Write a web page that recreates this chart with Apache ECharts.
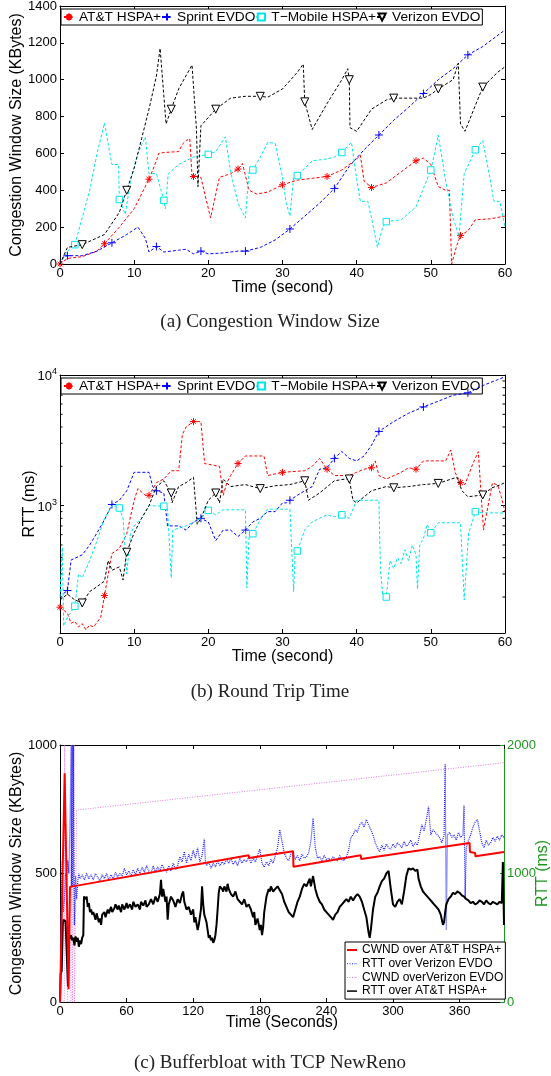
<!DOCTYPE html>
<html>
<head>
<meta charset="utf-8">
<title>TCP over cellular networks</title>
<script src="https://cdn.jsdelivr.net/npm/echarts@6/dist/echarts.min.js"></script>
<style>
  html, body { margin: 0; padding: 0; background: #fff; }
  #chart { width: 551px; height: 1076px; }
</style>
</head>
<body>
<div id="chart"></div>
<script>
// ---- (a) congestion window, [second, KBytes] ----
var attCwnd = [[0,0],[1,30],[3,40],[5,70],[6,110],[8,200],[10,300],[11,380],[12,460],[13,560],[13.3,600],[14,605],[16,610],[16.5,650],[17,670],[17.5,680],[17.8,480],[18,475],[19,470],[20.3,250],[21.5,470],[23,490],[24,515],[24.6,545],[25.5,400],[26.5,380],[28,390],[29.5,420],[30,430],[32,455],[34,465],[36,475],[38,510],[40,570],[40.5,590],[41,450],[42,415],[44,440],[46,500],[48,560],[49,575],[50,540],[51,420],[52,400],[52.5,400],[52.8,0],[53.5,100],[54,155],[55,180],[56,240],[58,245],[60,260]];
var sprintCwnd = [[0,0],[0.5,40],[1,45],[3,45],[5,70],[7,115],[9,160],[10.5,200],[11.5,140],[12,65],[13,95],[14,65],[16,75],[17,80],[18,55],[19,70],[20,55],[22,60],[24,70],[25,70],[27,90],[29,130],[31,190],[33,260],[35,330],[37,410],[39,530],[41,620],[43,700],[45,780],[47,850],[49,925],[51,1000],[53,1060],[55,1135],[57,1180],[60,1270]];
var tmoCwnd = [[0,0],[1,70],[2,105],[4,400],[5,600],[6,765],[6.5,650],[7,540],[7.9,540],[8,350],[8.8,270],[9.5,450],[10.5,600],[11.5,690],[12,490],[13,490],[14,345],[14.2,300],[14.6,490],[16,540],[18,580],[20,595],[21,610],[22.3,690],[23,500],[24,330],[25,250],[25.5,500],[26,510],[27,580],[28,660],[29,655],[30,470],[30.5,330],[31,260],[31.5,470],[32,480],[34,560],[36,570],[37,580],[38,605],[39.3,660],[40,460],[40.5,340],[41.5,340],[42,250],[42.8,90],[43.5,200],[44,230],[46,240],[48,310],[49.5,460],[50,510],[50.5,600],[51,700],[52,450],[53,250],[53.8,150],[54.5,490],[56,620],[57,670],[58,460],[58.5,340],[59.3,340],[60,200]];
var vzwCwnd = [[0,0],[1,90],[3,105],[6,160],[8,280],[9,400],[10,520],[11,680],[12,840],[13,1020],[13.5,1170],[14.3,760],[15,840],[16,950],[17.8,1080],[18.4,730],[18.6,420],[19,750],[21,840],[23,900],[25,910],[27,910],[28,905],[30,950],[32,1040],[32.8,1085],[33,880],[34,730],[36,870],[38,1000],[38.8,1060],[39,1000],[39.1,740],[40,720],[42,840],[44,890],[45,900],[47,900],[49,900],[50,920],[51,950],[53,1000],[53.7,1090],[54,760],[54.6,720],[57,960],[59,1040],[60,1070]];

// ---- (b) round trip time, [second, ms] ----
var attRtt = [[0,167],[1,150],[1.5,126],[2,130],[2.5,118],[3,125],[3.5,112],[4,122],[4.5,118],[5,128],[5.5,140],[6,205],[6.5,300],[7,430],[7.5,450],[8,470],[9,610],[10,1100],[10.5,1350],[11.5,1200],[12,1200],[13,1500],[14,1600],[15,1850],[16,1850],[16.5,3500],[17,4000],[18,4400],[19,4400],[19.5,2100],[21.5,2000],[22,1200],[22.5,1500],[23,1700],[24,2100],[25,2400],[27.5,2400],[28,1700],[30,1800],[33,1850],[34,2000],[35,2300],[36,1900],[37,1700],[39,1700],[40,1800],[41,1900],[42,1950],[42.5,2200],[43,1700],[44,1600],[46,1800],[47,1950],[48,1900],[49,2200],[52,2200],[52.7,2670],[53.3,1780],[54,1500],[54.6,1450],[55.6,2050],[56.4,2590],[57.1,650],[58.3,1490],[59,1440],[59.5,1170],[60,900]];
var sprintRtt = [[0.5,213],[1,224],[1.5,384],[3,420],[4,500],[5,620],[6,780],[7,1020],[8,1100],[9,1300],[10,1800],[11,1800],[12,1800],[12.5,1400],[13,1300],[14,1250],[14.5,700],[16,700],[17,650],[18,750],[19,800],[20,750],[21,540],[22,650],[23,650],[24,580],[25,650],[26,750],[27,800],[28,900],[29,900],[30,1050],[30.5,1050],[31,1100],[32,1200],[33,1300],[34,1400],[35,1900],[36,1950],[37,2300],[38,2600],[39,2300],[40,2200],[41,2400],[42,2900],[43,3700],[45,4400],[47,5100],[49,5700],[51,6300],[53,7000],[55,7300],[57,8300],[59,9200],[60,9700]];
var tmoRtt = [[0,200],[0.3,480],[0.5,120],[1,140],[2,170],[2.5,300],[3,280],[4,380],[5,540],[6,800],[7,1000],[8,960],[8.5,800],[9,300],[9.5,600],[10,700],[11,800],[12,1000],[14,990],[14.5,950],[15,280],[15.2,650],[17,700],[19,800],[20,920],[21,850],[22,930],[25,930],[25.2,235],[25.5,600],[26,610],[27,780],[28,940],[31,940],[31.5,220],[31.7,430],[32,450],[33,650],[34,750],[35,800],[36,850],[37,820],[38,850],[39,800],[40,1100],[43,1100],[43.2,330],[43.5,210],[44,200],[44.5,380],[45,330],[45.5,400],[46,360],[46.5,460],[47,380],[47.5,500],[48,420],[48.2,230],[48.5,500],[49,560],[49.5,720],[50,620],[51,740],[54,740],[54.5,190],[55.1,620],[55.8,820],[56,900],[57,880],[60,880]];
var vzwRtt = [[0,190],[1,210],[2,190],[3,180],[4,220],[5,240],[6,265],[6.5,380],[7,320],[8,340],[8.5,270],[9,440],[10,620],[11,800],[12,1000],[13,1400],[14,1550],[15,1250],[15.1,1050],[16,1400],[17,1500],[18,1650],[18.5,720],[19,800],[20,1100],[21,1250],[21.5,1050],[22,1600],[23,1400],[25,1450],[27,1350],[29,1420],[31,1450],[33,1550],[33.5,1100],[35,1250],[37,1550],[38.5,1600],[39,1600],[39.5,1100],[40,1050],[42,1300],[44,1400],[45,1370],[47,1400],[49,1450],[51,1480],[53.5,1650],[54.2,1300],[55,1170],[57,1207],[58.2,1366],[59.3,1440],[60,1500]];

// marker positions (seconds) for each carrier, shared by (a) and (b)
var attMarks = [0,6,12,18,24,30,36,42,48,54];
var sprintMarks = [1,7,13,19,25,31,37,43,49,55];
var tmoMarks = [2,8,14,20,26,32,38,44,50,56];
var vzwMarks = [3,9,15,21,27,33,39,45,51,57];

var carrierNames = ['AT&T HSPA+', 'Sprint EVDO', 'T\u2212Mobile HSPA+', 'Verizon EVDO'];
var rttMinorTicks = [200,300,400,500,600,700,800,900,2000,3000,4000,5000,6000,7000,8000,9000];

// ---- (c) bufferbloat, [second, KBytes] and [second, ms] ----
var attCwndLong = [[0,0],[0.7,0],[4.2,890],[7.7,50],[8.6,50],[9,448],[170,571],[170.3,560],[210,587],[210.3,526],[271,571],[271.3,556],[369,619],[369.3,584],[374,580],[374.3,567],[400,584]];
var vzwCwndLong = [[0,0],[3.8,0],[4.2,1000],[5.5,1000],[5.8,200],[7,0],[9.8,0],[10.2,1000],[10.9,1000],[11.2,0],[12.4,0],[12.6,1000],[13,0],[14.8,0],[15,747],[400,931]];
var vzwRttLong = [[0.5,320],[1,640],[2,1100],[3,700],[4,800],[5,1000],[6,950],[7,1100],[8,1000],[9,1400],[10,2000],[10.3,900],[11,2000],[11.4,900],[12,2000],[12.5,1100],[13,600],[14,980],[15,800],[16,940],[17,1000],[18,960],[20,990],[22,950],[24,1000],[26,960],[28,990],[30,950],[32,1000],[34,970],[36,940],[38,990],[40,960],[42,1000],[44,950],[46,990],[48,960],[50,1010],[52,970],[54,1000],[56,980],[58,1040],[60,990],[62,1020],[64,980],[66,1030],[68,990],[70,1040],[72,1000],[74,1050],[76,1010],[78,1060],[80,1020],[82,1000],[84,1060],[86,1010],[88,1050],[90,1020],[92,1070],[94,1030],[96,1010],[98,1060],[100,1020],[102,1080],[104,1030],[106,1060],[108,1130],[110,1090],[112,1170],[114,1080],[116,1150],[118,1100],[120,1180],[122,1120],[124,1200],[126,1090],[128,1140],[130,1270],[131,1100],[132,1060],[134,1090],[136,1040],[138,1080],[140,1050],[142,1100],[144,1060],[146,1090],[148,1070],[150,1110],[152,1080],[154,1120],[156,1070],[158,1100],[160,1060],[162,1120],[164,1080],[166,1110],[168,1090],[170,1130],[172,1080],[174,1120],[176,1090],[178,1140],[180,1190],[182,1080],[184,1050],[186,1090],[188,1060],[190,1110],[192,1080],[194,1140],[196,1200],[198,1340],[200,1250],[202,1160],[204,1120],[206,1100],[208,1150],[210,1160],[212,1110],[214,1140],[216,1100],[218,1150],[220,1120],[222,1130],[224,1160],[226,1250],[228,1430],[230,1200],[232,1120],[234,1130],[236,1100],[238,1140],[240,1110],[242,1120],[244,1100],[246,1130],[248,1110],[250,1100],[252,1140],[254,1110],[256,1100],[258,1130],[260,1180],[262,1280],[264,1300],[266,1340],[268,1320],[270,1380],[272,1400],[274,1360],[276,1420],[278,1380],[280,1340],[282,1300],[284,1240],[286,1200],[288,1170],[290,1220],[292,1180],[294,1230],[296,1200],[298,1190],[300,1230],[302,1200],[304,1240],[306,1220],[308,1200],[310,1250],[312,1210],[314,1230],[316,1260],[318,1210],[320,1240],[322,1220],[324,1300],[326,1380],[328,1330],[330,1420],[332,1520],[334,1300],[336,1340],[338,1320],[340,1300],[342,1280],[344,1240],[346,1300],[347,1850],[348,560],[349,1300],[351,1320],[353,1280],[355,1300],[357,1260],[359,1320],[361,1280],[363,1300],[364,1530],[365,800],[366,1200],[368,1260],[370,1300],[372,1360],[374,1400],[376,1420],[378,1330],[380,1240],[382,1200],[384,1260],[386,1220],[388,1240],[390,1280],[392,1250],[394,1290],[396,1260],[398,1300],[400,1280]];
var attRttLong = [[0,0],[0.6,220],[1.5,240],[2.5,600],[3,640],[5,630],[6,620],[7.2,120],[8,480],[9,470],[10,520],[11,480],[12,500],[13,440],[14,510],[15,470],[16,500],[17,430],[18,480],[19,450],[20,500],[21,520],[21.6,820],[22,830],[23,800],[24,820],[25,740],[26,770],[27,700],[28,720],[29,680],[30,700],[32,640],[33,690],[35,620],[36,650],[37,600],[38,680],[40,700],[41,660],[43,720],[44,690],[46,740],[47,700],[49,730],[50,760],[52,720],[53,750],[55,700],[56,760],[58,720],[60,770],[61,730],[63,760],[65,720],[66,780],[68,740],[70,760],[72,720],[73,780],[75,750],[77,790],[78,740],[80,760],[82,800],[84,760],[86,820],[88,780],[90,840],[91,950],[92,820],[93,880],[95,780],[96,820],[97,640],[98,760],[100,820],[102,790],[104,740],[106,800],[108,770],[110,840],[111,860],[112,780],[114,720],[116,740],[118,680],[120,720],[121,620],[122,660],[124,560],[125,600],[127,720],[128,900],[129,760],[130,680],[132,620],[133,560],[134,500],[135,520],[136,480],[137,500],[138,460],[139,480],[140,520],[141,600],[142,720],[143,850],[144,900],[146,880],[147,860],[148,900],[149,880],[150,860],[151,920],[152,880],[154,840],[156,820],[158,860],[160,800],[162,780],[164,760],[166,800],[168,740],[170,760],[172,720],[174,660],[175,700],[176,600],[178,650],[180,560],[181,600],[182,520],[183,580],[184,700],[186,820],[188,880],[189,860],[190,900],[192,860],[194,880],[196,900],[198,870],[200,840],[202,780],[204,740],[206,700],[208,680],[210,660],[212,720],[214,780],[216,820],[218,880],[220,920],[222,900],[224,940],[225,960],[226,900],[228,980],[230,880],[232,820],[234,780],[236,760],[238,720],[240,700],[242,680],[244,660],[246,640],[248,680],[250,700],[252,740],[254,760],[256,780],[258,800],[260,780],[262,820],[264,790],[266,820],[268,840],[270,820],[272,780],[274,720],[276,660],[277,600],[278,540],[279,500],[280,560],[281,640],[282,720],[284,820],[286,850],[288,900],[290,940],[292,960],[294,1000],[296,1020],[298,880],[300,760],[302,740],[304,780],[306,800],[308,760],[310,860],[312,980],[314,1040],[316,1030],[318,1040],[320,1020],[322,1030],[323,960],[325,900],[327,860],[329,840],[331,820],[333,800],[335,780],[337,760],[339,740],[341,720],[343,680],[344,640],[345,600],[346,620],[347,700],[348,760],[350,800],[352,820],[354,850],[356,840],[358,860],[360,850],[362,830],[364,820],[366,800],[368,790],[370,770],[372,780],[374,760],[376,770],[378,790],[380,780],[382,760],[384,790],[386,770],[388,760],[390,780],[392,770],[394,760],[396,780],[398,770],[399,1090],[400,600]];
var longLegend = ['CWND over AT&T HSPA+', 'RTT over Verizon EVDO', 'CWND overVerizon EVDO', 'RTT over AT&T HSPA+'];

var FONT = "'Liberation Sans', Arial, sans-serif";
var SERIF = "'Liberation Serif', 'Times New Roman', serif";
var GREEN = '#1e961e';

var ASTERISK = 'path://M5,0L5,10M0,5L10,5M1.6,1.6L8.4,8.4M8.4,1.6L1.6,8.4';
var PLUS = 'path://M5,0L5,10M0,5L10,5';

var carriers = [
  { color: '#ff0000', symbol: ASTERISK, fill: '#ff0000', size: 7, rotate: 0 },
  { color: '#0000ff', symbol: PLUS, fill: '#0000ff', size: 8, rotate: 0 },
  { color: '#00e5ee', symbol: 'rect', fill: '#ffffff', size: 6.5, rotate: 0 },
  { color: '#000000', symbol: 'triangle', fill: '#ffffff', size: 8, rotate: 180 }
];

function plain(v) { return String(v); }

function marked(points, marks) {
  return points.map(function (p) {
    return marks.indexOf(p[0]) >= 0 ? { value: p } : { value: p, symbol: 'none' };
  });
}

function carrierSeries(idx, points, marks, axis) {
  var c = carriers[idx];
  return {
    type: 'line', name: carrierNames[idx], xAxisIndex: axis, yAxisIndex: axis,
    data: marked(points, marks),
    showSymbol: true, showAllSymbol: true,
    symbol: c.symbol, symbolSize: c.size, symbolRotate: c.rotate,
    lineStyle: { color: c.color, width: 1, type: [3, 2] },
    itemStyle: { color: c.fill, borderColor: c.color, borderWidth: 1 },
    emphasis: { disabled: true }, z: 3 + idx
  };
}

function xAxis(grid, max, interval, top, name, nameGap) {
  return {
    type: 'value', gridIndex: grid, min: 0, max: max, interval: interval,
    position: top ? 'top' : 'bottom',
    name: top ? '' : name, nameLocation: 'middle', nameGap: nameGap, nameMoveOverlap: false,
    nameTextStyle: { fontFamily: FONT, fontSize: 16, color: '#000' },
    axisLine: { show: true, onZero: false, lineStyle: { color: '#000', width: 1 } },
    axisTick: { show: true, inside: true, length: 4, lineStyle: { color: '#000' } },
    axisLabel: { show: !top, margin: 3, formatter: plain, showMaxLabel: max % interval === 0, fontFamily: FONT, fontSize: 13, color: '#000' },
    splitLine: { show: false }
  };
}

function yAxis(grid, min, max, interval, right, name, nameGap, color) {
  color = color || '#000';
  return {
    type: 'value', gridIndex: grid, min: min, max: max, interval: interval,
    position: right ? 'right' : 'left',
    name: name, nameLocation: 'middle', nameGap: nameGap, nameMoveOverlap: false,
    nameTextStyle: { fontFamily: FONT, fontSize: 16, color: color },
    axisLine: { show: true, onZero: false, lineStyle: { color: color, width: 1 } },
    axisTick: { show: true, inside: true, length: 4, lineStyle: { color: color } },
    axisLabel: { show: !!name, margin: 3, formatter: plain, fontFamily: FONT, fontSize: 13, color: color },
    splitLine: { show: false }
  };
}

function logAxis(right) {
  return {
    type: 'log', gridIndex: 1, min: 106, max: 10000, logBase: 10,
    position: right ? 'right' : 'left',
    name: right ? '' : 'RTT (ms)', nameLocation: 'middle', nameGap: 22, nameMoveOverlap: false,
    nameTextStyle: { fontFamily: FONT, fontSize: 16, color: '#000' },
    axisLine: { show: true, onZero: false, lineStyle: { color: '#000', width: 1 } },
    axisTick: { show: true, inside: true, length: 4, lineStyle: { color: '#000' } },
    axisLabel: {
      show: !right, margin: 3, showMinLabel: false,
      formatter: function (v) {
        var e = Math.log(v) / Math.LN10;
        if (Math.abs(e - Math.round(e)) > 1e-6) return '';
        return '{b|10}{e|' + Math.round(e) + '}';
      },
      rich: {
        b: { fontFamily: FONT, fontSize: 13, color: '#000', verticalAlign: 'bottom' },
        e: { fontFamily: FONT, fontSize: 9, color: '#000', verticalAlign: 'top', padding: [0, 0, 7, 0] }
      }
    },
    splitLine: { show: false }
  };
}

var carrierLegend = function (top) {
  return {
    left: 61, top: top, orient: 'horizontal', data: carrierNames,
    itemWidth: 10, itemHeight: 9, itemGap: 0, padding: [1, 2],
    borderColor: '#000', borderWidth: 1, backgroundColor: '#fff',
    selectedMode: false,
    textStyle: { fontFamily: FONT, fontSize: 13.7, color: '#000' }
  };
};

var minorTickSeries = {
  type: 'custom', xAxisIndex: 2, yAxisIndex: 2, silent: true, z: 1, clip: false,
  data: rttMinorTicks.map(function (v) { return [0, v]; }),
  renderItem: function (params, api) {
    var y = api.coord([0, api.value(1)])[1];
    var x0 = params.coordSys.x, x1 = x0 + params.coordSys.width;
    return {
      type: 'group', children: [
        { type: 'line', shape: { x1: x0, y1: y, x2: x0 + 2.5, y2: y }, style: { stroke: '#000', lineWidth: 1 } },
        { type: 'line', shape: { x1: x1, y1: y, x2: x1 - 2.5, y2: y }, style: { stroke: '#000', lineWidth: 1 } }
      ]
    };
  }
};

var DOTS = 'path://M0,0L1,0L1,1L0,1ZM2.5,0L3.5,0L3.5,1L2.5,1ZM5,0L6,0L6,1L5,1ZM7.5,0L8.5,0L8.5,1L7.5,1ZM9.5,0L10,0L10,1L9.5,1Z';

var chart = echarts.init(document.getElementById('chart'), null, { renderer: 'canvas' });

var option = {
  animation: false,
  backgroundColor: '#fff',
  grid: [
    { left: 60, top: 6, width: 445, height: 258, outerBoundsMode: 'none' },
    { left: 60, top: 375, width: 445, height: 258, outerBoundsMode: 'none' },
    { left: 60, top: 745, width: 444, height: 257, outerBoundsMode: 'none' }
  ],
  xAxis: [
    xAxis(0, 60, 10, false, 'Time (second)', 16),
    xAxis(0, 60, 10, true),
    xAxis(1, 60, 10, false, 'Time (second)', 16),
    xAxis(1, 60, 10, true),
    xAxis(2, 400, 60, false, 'Time (Seconds)', 13),
    xAxis(2, 400, 60, true)
  ],
  yAxis: [
    yAxis(0, 0, 1400, 200, false, 'Congestion Window Size (KBytes)', 35),
    yAxis(0, 0, 1400, 200, true, ''),
    logAxis(false),
    logAxis(true),
    yAxis(2, 0, 1000, 500, false, 'Congestion Window Size (KBytes)', 35),
    yAxis(2, 0, 2000, 1000, true, 'RTT (ms)', 31, GREEN)
  ],
  legend: [
    carrierLegend(9),
    carrierLegend(378),
    {
      left: 345, top: 942, orient: 'vertical',
      data: [
        { name: longLegend[0], icon: 'path://M0,0L10,0L10,2L0,2Z' },
        { name: longLegend[1], icon: DOTS },
        { name: longLegend[2], icon: DOTS },
        { name: longLegend[3], icon: 'path://M0,0L10,0L10,1.5L0,1.5Z' }
      ],
      itemWidth: 10, itemHeight: 8, itemGap: 1.7, padding: [2, 2],
      borderColor: '#000', borderWidth: 1, backgroundColor: '#fff',
      selectedMode: false,
      textStyle: { fontFamily: FONT, fontSize: 12, color: '#000' }
    }
  ],
  graphic: [
    { type: 'text', x: 270, y: 322, style: { text: '(a) Congestion Window Size', align: 'center', verticalAlign: 'middle', fontFamily: SERIF, fontSize: 19, fill: '#222' } },
    { type: 'text', x: 270, y: 692, style: { text: '(b) Round Trip Time', align: 'center', verticalAlign: 'middle', fontFamily: SERIF, fontSize: 19, fill: '#222' } },
    { type: 'text', x: 270, y: 1063, style: { text: '(c) Bufferbloat with TCP NewReno', align: 'center', verticalAlign: 'middle', fontFamily: SERIF, fontSize: 19, fill: '#222' } }
  ],
  series: [
    carrierSeries(0, attCwnd, attMarks, 0),
    carrierSeries(1, sprintCwnd, sprintMarks, 0),
    carrierSeries(2, tmoCwnd, tmoMarks, 0),
    carrierSeries(3, vzwCwnd, vzwMarks, 0),
    carrierSeries(0, attRtt, attMarks, 2),
    carrierSeries(1, sprintRtt, sprintMarks, 2),
    carrierSeries(2, tmoRtt, tmoMarks, 2),
    carrierSeries(3, vzwRtt, vzwMarks, 2),
    minorTickSeries,
    {
      type: 'line', name: longLegend[2], xAxisIndex: 4, yAxisIndex: 4, data: vzwCwndLong,
      showSymbol: false, symbol: 'none', color: '#e07ce0',
      lineStyle: { color: '#e07ce0', width: 1, type: [1, 1.5] }, z: 2
    },
    {
      type: 'line', name: longLegend[1], xAxisIndex: 4, yAxisIndex: 5, data: vzwRttLong,
      showSymbol: false, symbol: 'none', color: '#1f1fff',
      lineStyle: { color: '#1f1fff', width: 1.2, type: [1, 1] }, z: 3
    },
    {
      type: 'line', name: longLegend[3], xAxisIndex: 4, yAxisIndex: 5, data: attRttLong,
      showSymbol: false, symbol: 'none', color: '#000',
      lineStyle: { color: '#000', width: 2 }, z: 4
    },
    {
      type: 'line', name: longLegend[0], xAxisIndex: 4, yAxisIndex: 4, data: attCwndLong,
      showSymbol: false, symbol: 'none', color: '#ff0000',
      lineStyle: { color: '#ff0000', width: 2 }, z: 5
    }
  ]
};

chart.setOption(option);
</script>
</body>
</html>
